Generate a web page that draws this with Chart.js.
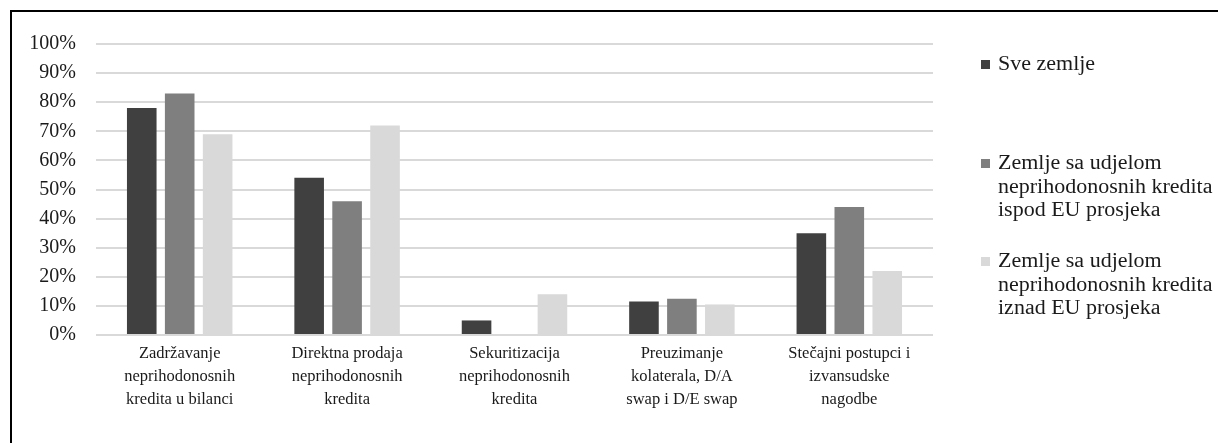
<!DOCTYPE html>
<html>
<head>
<meta charset="utf-8">
<script src="https://cdn.jsdelivr.net/npm/chart.js@4"></script>
<style>
    body { margin: 0; background: #fff; }
    #wrap { position: relative; width: 1218px; height: 443px; overflow: hidden; }
    #frame {
        position: absolute; left: 10px; top: 10px; width: 1300px; height: 500px;
        border-top: 2px solid #000; border-left: 2px solid #000;
    }
    canvas { position: absolute; left: 0; top: 0; }
    .legend-item { position: absolute; font-family: "Liberation Serif", serif; font-size: 20px; line-height: 23.5px; color: #1a1a1a; }
    .legend-box { position: absolute; width: 9px; height: 9px; }
    .legend-text { position: absolute; white-space: nowrap; transform: scaleX(1.1); transform-origin: left top; }
</style>
</head>
<body>
<div id="wrap">
    <div id="frame"></div>
    <canvas id="npl" width="1218" height="443"></canvas>
    <div id="legend"></div>
</div>
<script>
// Chart data
const categories = [
    ['Zadržavanje', 'neprihodonosnih', 'kredita u bilanci'],
    ['Direktna prodaja', 'neprihodonosnih', 'kredita'],
    ['Sekuritizacija', 'neprihodonosnih', 'kredita'],
    ['Preuzimanje', 'kolaterala, D/A', 'swap i D/E swap'],
    ['Stečajni postupci i', 'izvansudske', 'nagodbe']
];
const seriesNames = [
    ['Sve zemlje'],
    ['Zemlje sa udjelom', 'neprihodonosnih kredita', 'ispod EU prosjeka'],
    ['Zemlje sa udjelom', 'neprihodonosnih kredita', 'iznad EU prosjeka']
];
const sveZemlje = [78, 54, 5, 11.5, 35];
const ispodProsjeka = [83, 46, 0, 12.5, 44];
const iznadProsjeka = [69, 72, 14, 10.5, 22];
const yTicks = [0, 10, 20, 30, 40, 50, 60, 70, 80, 90, 100];

const colors = ['#404040', '#7f7f7f', '#d9d9d9'];
const serif = '"Liberation Serif", "Times New Roman", serif';

document.addEventListener('DOMContentLoaded', function() {
    drawChart();
    drawLegend();
});

function drawChart() {
    const ctx = document.getElementById('npl').getContext('2d');
    const values = [sveZemlje, ispodProsjeka, iznadProsjeka];

    new Chart(ctx, {
        type: 'bar',
        data: {
            labels: categories,
            datasets: values.map((v, i) => ({
                label: seriesNames[i].join(' '),
                data: v,
                backgroundColor: colors[i],
                borderWidth: 0,
                categoryPercentage: 0.68,
                barPercentage: 0.78
            }))
        },
        options: {
            responsive: false,
            animation: false,
            layout: { padding: { left: 0, right: 285, top: 44, bottom: 8 } },
            plugins: {
                legend: { display: false },
                tooltip: { enabled: false }
            },
            scales: {
                x: {
                    grid: { display: false, drawTicks: false },
                    border: { display: false },
                    ticks: {
                        color: '#1a1a1a',
                        font: { family: serif, size: 16.5, lineHeight: 1.4 },
                        padding: 7,
                        maxRotation: 0,
                        autoSkip: false
                    },
                    afterFit: scale => { scale.height = 100; }
                },
                y: {
                    min: 0,
                    max: 100,
                    afterBuildTicks: scale => { scale.ticks = yTicks.map(v => ({ value: v })); },
                    grid: { color: '#d9d9d9', lineWidth: 2, drawTicks: false },
                    border: { display: false },
                    ticks: {
                        color: '#1a1a1a',
                        font: { family: serif, size: 20 },
                        padding: 20,
                        callback: v => v + '%'
                    },
                    afterFit: scale => { scale.width = 96; }
                }
            }
        }
    });
}

function drawLegend() {
    const legend = document.getElementById('legend');
    const tops = [52, 151, 249];
    seriesNames.forEach((lines, i) => {
        const item = document.createElement('div');
        item.className = 'legend-item';
        item.style.left = '981px';
        item.style.top = tops[i] + 'px';
        item.innerHTML = `
            <div class="legend-box" style="left:0;top:8px;background:${colors[i]}"></div>
            <div class="legend-text" style="left:17px;top:0">${lines.join('<br>')}</div>
        `;
        legend.appendChild(item);
    });
}
</script>
</body>
</html>
